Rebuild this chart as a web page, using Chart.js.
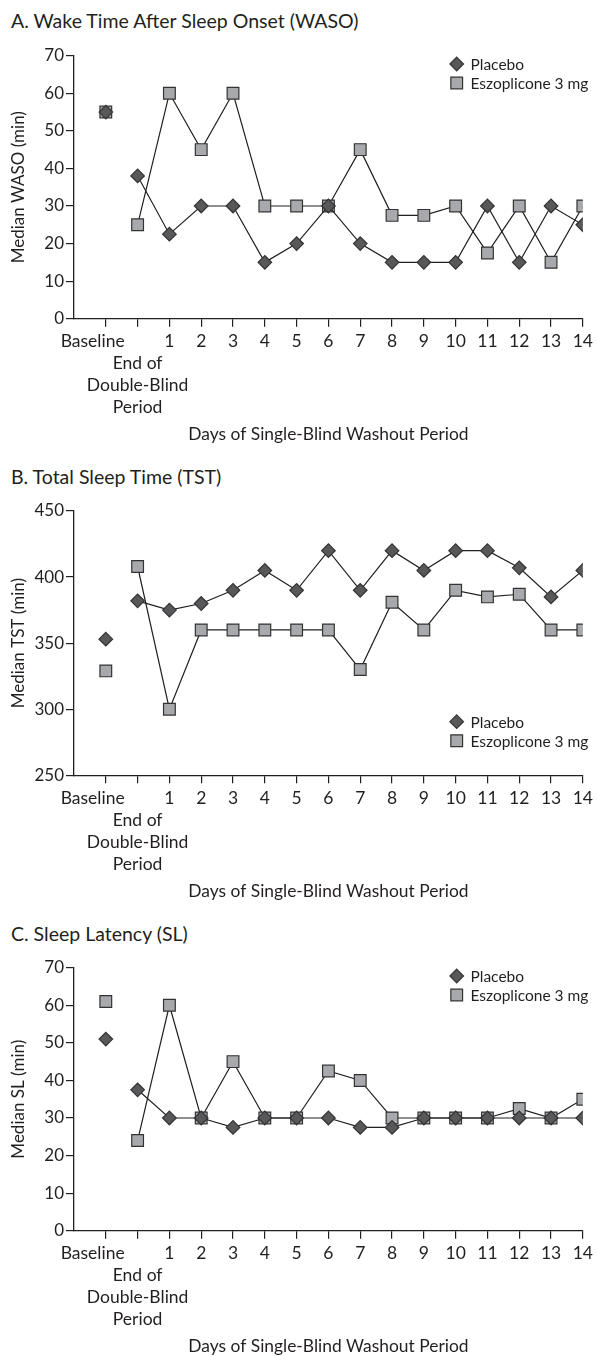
<!DOCTYPE html>
<html>
<head>
<meta charset="utf-8">
<script src="https://cdn.jsdelivr.net/npm/chart.js@4.4.1/dist/chart.umd.min.js"></script>
<style>
  body { margin: 0; width: 597px; height: 1356px; position: relative; background: #fff; overflow: hidden; }
  .titulo { position: absolute; left: 11px; font-family: Lato, "Open Sans", sans-serif; font-size: 19.5px; line-height: 20px; color: #231f20; white-space: nowrap; }
  canvas { position: absolute; left: 0; }
</style>
</head>
<body>
<div class="titulo" style="top:11px">A. Wake Time After Sleep Onset (WASO)</div>
<canvas id="graficoA" width="597" height="428" style="top:30px"></canvas>
<div class="titulo" style="top:467px">B. Total Sleep Time (TST)</div>
<canvas id="graficoB" width="597" height="428" style="top:485px"></canvas>
<div class="titulo" style="top:924px">C. Sleep Latency (SL)</div>
<canvas id="graficoC" width="597" height="414" style="top:942px"></canvas>
<script>
// Etiquetas del eje X (Baseline, fin del doble ciego, dias 1-14)
const etiquetasX = ['Baseline\u2003\u2003', ['', 'End of', 'Double-Blind', 'Period'],
  '1', '2', '3', '4', '5', '6', '7', '8', '9', '10', '11', '12', '13', '14'];

// A. WASO (min)
const wasoPlacebo = [55, 38, 22.5, 30, 30, 15, 20, 30, 20, 15, 15, 15, 30, 15, 30, 25];
const wasoEszo    = [55, 25, 60, 45, 60, 30, 30, 30, 45, 27.5, 27.5, 30, 17.5, 30, 15, 30];
const wasoTicks   = [0, 10, 20, 30, 40, 50, 60, 70];

// B. TST (min)
const tstPlacebo = [353, 382, 375, 380, 390, 405, 390, 420, 390, 420, 405, 420, 420, 407, 385, 405];
const tstEszo    = [329, 408, 300, 360, 360, 360, 360, 360, 330, 381, 360, 390, 385, 387, 360, 360];
const tstTicks   = [250, 300, 350, 400, 450];

// C. SL (min)
const slPlacebo = [51, 37.5, 30, 30, 27.5, 30, 30, 30, 27.5, 27.5, 30, 30, 30, 30, 30, 30];
const slEszo    = [61, 24, 60, 30, 45, 30, 30, 42.5, 40, 30, 30, 30, 30, 32.5, 30, 35];
const slTicks   = [0, 10, 20, 30, 40, 50, 60, 70];

const fuente = 'Lato, "Open Sans", sans-serif';
const tinta = '#231f20';

// Leyenda dibujada dentro del area del grafico
const leyendaInterna = {
  id: 'leyendaInterna',
  afterDraw(chart, args, opts) {
    const ctx = chart.ctx;
    const area = chart.chartArea;
    ctx.save();
    chart.data.datasets.forEach((ds, i) => {
      const cx = opts.x;
      const cy = area.top + opts.y + i * opts.gap;
      ctx.fillStyle = ds.pointBackgroundColor;
      ctx.strokeStyle = ds.pointBorderColor;
      ctx.lineWidth = 1.2;
      ctx.beginPath();
      if (ds.pointStyle === 'rectRot') {
        const r = ds.pointRadius;
        ctx.moveTo(cx, cy - r); ctx.lineTo(cx + r, cy); ctx.lineTo(cx, cy + r); ctx.lineTo(cx - r, cy);
        ctx.closePath();
      } else {
        const m = ds.pointRadius * Math.SQRT1_2;
        ctx.rect(cx - m, cy - m, 2 * m, 2 * m);
      }
      ctx.fill(); ctx.stroke();
      ctx.fillStyle = tinta;
      ctx.font = '15.5px ' + fuente;
      ctx.textBaseline = 'middle';
      ctx.textAlign = 'left';
      ctx.fillText(ds.label, opts.textoX, cy + 1);
    });
    ctx.restore();
  }
};

function serie(nombre, valores, estilo, radio, relleno) {
  return {
    label: nombre,
    data: valores.map((v, i) => ({ x: i + 1, y: v })),
    borderColor: tinta,
    borderWidth: 1.2,
    pointStyle: estilo,
    pointRadius: radio,
    pointBackgroundColor: relleno,
    pointBorderColor: '#333',
    pointBorderWidth: 1.2,
    // la linea base queda suelta, sin unir
    segment: { borderColor: c => c.p0DataIndex === 0 ? 'rgba(0,0,0,0)' : tinta }
  };
}

function crearPanel(cfg) {
  const canvas = document.getElementById(cfg.id);
  const top = parseFloat(canvas.style.top);
  const altoCanvas = canvas.height;
  const padTop = cfg.areaTop - top;
  const altoX = altoCanvas - (cfg.areaBottom - top);
  const posiciones = etiquetasX.map((e, i) => ({ value: i + 1 }));

  new Chart(canvas, {
    type: 'line',
    data: {
      datasets: [
        serie('Placebo', cfg.placebo, 'rectRot', 6.8, '#58585a'),
        serie('Eszoplicone 3 mg', cfg.eszo, 'rect', 8.3, '#a7a9ac')
      ]
    },
    options: {
      responsive: false,
      animation: false,
      layout: { padding: { left: 0, right: 11, top: padTop, bottom: 0 } },
      plugins: {
        legend: { display: false },
        tooltip: { enabled: false },
        leyendaInterna: { x: 456.7, textoX: 470.5, y: cfg.leyendaY, gap: 19 }
      },
      scales: {
        x: {
          type: 'linear', min: 0, max: 16,
          afterBuildTicks: s => { s.ticks = posiciones.map(p => ({ value: p.value })); },
          afterFit: s => { s.height = altoX; },
          ticks: {
            autoSkip: false, maxRotation: 0, padding: 4, color: tinta,
            font: { family: fuente, size: 17.5, lineHeight: 22 / 17.5 },
            callback: v => etiquetasX[v - 1]
          },
          grid: { drawOnChartArea: false, tickLength: 8, color: tinta, lineWidth: 1.2 },
          border: { color: tinta, width: 1.3 },
          title: {
            display: true, text: 'Days of Single-Blind Washout Period', color: tinta,
            font: { family: fuente, size: 17.4, lineHeight: 1.15 },
            padding: { top: 0, bottom: Math.max(0, altoX - 116 - 10) }
          }
        },
        y: {
          min: cfg.ticks[0], max: cfg.ticks[cfg.ticks.length - 1],
          afterBuildTicks: s => { s.ticks = cfg.ticks.map(v => ({ value: v })); },
          afterFit: s => { s.width = 74; },
          ticks: { padding: 2, color: tinta, font: { family: fuente, size: 17 } },
          grid: { drawOnChartArea: false, tickLength: 8, color: tinta, lineWidth: 1.2 },
          border: { color: tinta, width: 1.3 },
          title: {
            display: true, text: cfg.tituloY, color: tinta,
            font: { family: fuente, size: 17, lineHeight: 1.15 },
            padding: { top: 9.2, bottom: 0 }
          }
        }
      }
    },
    plugins: [leyendaInterna]
  });
}

crearPanel({ id: 'graficoA', placebo: wasoPlacebo, eszo: wasoEszo, ticks: wasoTicks,
  tituloY: 'Median WASO (min)', areaTop: 55.7, areaBottom: 318.7, leyendaY: 8.3 });
crearPanel({ id: 'graficoB', placebo: tstPlacebo, eszo: tstEszo, ticks: tstTicks,
  tituloY: 'Median TST (min)', areaTop: 511, areaBottom: 775.3, leyendaY: 210.7 });
crearPanel({ id: 'graficoC', placebo: slPlacebo, eszo: slEszo, ticks: slTicks,
  tituloY: 'Median SL (min)', areaTop: 967.7, areaBottom: 1230.7, leyendaY: 8.3 });
</script>
</body>
</html>
